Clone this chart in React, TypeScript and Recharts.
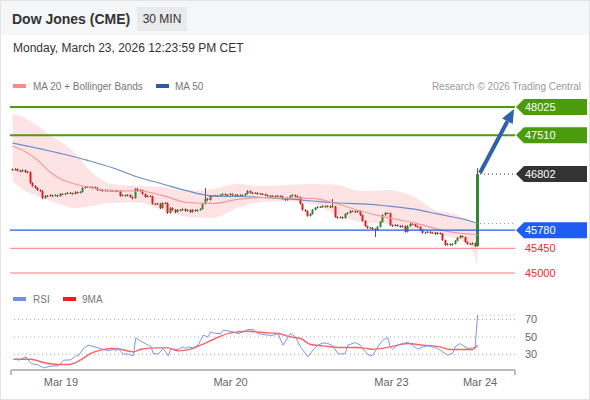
import { ComposedChart, LineChart, Line, Area, Bar, XAxis, YAxis, ReferenceLine } from 'recharts';

// 30 min candles, [open, high, low, close]
const candles: number[][] = [
  [46890, 46905, 46860, 46875], [46875, 46910, 46865, 46895], [46895, 46905, 46850, 46860], [46860, 46880, 46835, 46850],
  [46850, 46890, 46840, 46875], [46875, 46885, 46825, 46840], [46840, 46860, 46820, 46835], [46835, 46855, 46625, 46640],
  [46640, 46655, 46570, 46585], [46585, 46600, 46535, 46550], [46550, 46565, 46495, 46510], [46510, 46525, 46480, 46495],
  [46495, 46510, 46345, 46365], [46365, 46420, 46355, 46405], [46405, 46420, 46390, 46400], [46400, 46435, 46390, 46420],
  [46420, 46430, 46390, 46405], [46405, 46435, 46395, 46420], [46420, 46430, 46385, 46400], [46400, 46455, 46390, 46440],
  [46440, 46455, 46420, 46435], [46435, 46460, 46425, 46445], [46445, 46475, 46435, 46460], [46460, 46475, 46440, 46455],
  [46455, 46465, 46425, 46440], [46440, 46490, 46430, 46475], [46475, 46485, 46445, 46460], [46460, 46490, 46450, 46475],
  [46475, 46565, 46465, 46550], [46550, 46580, 46540, 46565], [46565, 46585, 46550, 46570], [46570, 46580, 46545, 46560],
  [46560, 46580, 46550, 46565], [46565, 46575, 46535, 46550], [46550, 46560, 46495, 46510], [46510, 46530, 46495, 46515],
  [46515, 46525, 46480, 46495], [46495, 46525, 46485, 46510], [46510, 46520, 46480, 46495], [46495, 46520, 46485, 46505],
  [46505, 46515, 46480, 46495], [46495, 46515, 46485, 46500], [46500, 46510, 46475, 46490], [46490, 46500, 46390, 46405],
  [46405, 46435, 46395, 46420], [46420, 46430, 46390, 46405], [46405, 46440, 46395, 46425], [46425, 46435, 46370, 46385],
  [46385, 46395, 46340, 46365], [46365, 46545, 46355, 46530], [46530, 46550, 46485, 46495], [46495, 46525, 46485, 46510],
  [46510, 46520, 46425, 46440], [46440, 46450, 46370, 46385], [46385, 46420, 46375, 46405], [46405, 46415, 46385, 46400],
  [46400, 46410, 46245, 46260], [46260, 46275, 46240, 46255], [46255, 46280, 46245, 46265], [46265, 46275, 46165, 46185],
  [46185, 46290, 46175, 46275], [46275, 46290, 46255, 46270], [46270, 46285, 46075, 46095], [46095, 46200, 46080, 46185],
  [46185, 46195, 46135, 46150], [46150, 46165, 46090, 46110], [46110, 46165, 46100, 46150], [46150, 46165, 46130, 46145],
  [46145, 46180, 46135, 46165], [46165, 46175, 46115, 46130], [46130, 46165, 46120, 46150], [46150, 46160, 46095, 46110],
  [46110, 46165, 46100, 46150], [46150, 46160, 46115, 46130], [46130, 46160, 46120, 46145], [46145, 46180, 46135, 46165],
  [46165, 46275, 46155, 46260], [46260, 46550, 46250, 46350], [46350, 46365, 46315, 46330], [46330, 46420, 46320, 46405],
  [46405, 46420, 46390, 46400], [46400, 46425, 46390, 46410], [46410, 46420, 46385, 46400], [46400, 46435, 46390, 46420],
  [46420, 46455, 46410, 46440], [46440, 46450, 46410, 46425], [46425, 46435, 46405, 46420], [46420, 46455, 46410, 46440],
  [46440, 46450, 46405, 46420], [46420, 46440, 46410, 46425], [46425, 46435, 46390, 46405], [46405, 46435, 46395, 46420],
  [46420, 46430, 46400, 46415], [46415, 46455, 46405, 46440], [46440, 46510, 46430, 46495], [46495, 46505, 46450, 46460],
  [46460, 46475, 46440, 46455], [46455, 46475, 46445, 46460], [46460, 46470, 46425, 46440], [46440, 46460, 46430, 46445],
  [46445, 46455, 46420, 46435], [46435, 46445, 46405, 46420], [46420, 46430, 46390, 46405], [46405, 46420, 46385, 46400],
  [46400, 46420, 46390, 46405], [46405, 46415, 46385, 46400], [46400, 46420, 46390, 46405], [46405, 46415, 46385, 46400],
  [46400, 46410, 46335, 46350], [46350, 46360, 46315, 46330], [46330, 46380, 46320, 46365], [46365, 46420, 46355, 46405],
  [46405, 46435, 46395, 46420], [46420, 46430, 46385, 46400], [46400, 46410, 46370, 46385], [46385, 46395, 46245, 46260],
  [46260, 46270, 46135, 46150], [46150, 46165, 46115, 46130], [46130, 46140, 46025, 46040], [46040, 46090, 46030, 46075],
  [46075, 46165, 46065, 46150], [46150, 46200, 46140, 46185], [46185, 46220, 46175, 46205], [46205, 46215, 46185, 46200],
  [46200, 46235, 46190, 46220], [46220, 46230, 46190, 46205], [46205, 46235, 46195, 46220], [46220, 46230, 46185, 46200],
  [46200, 46350, 46190, 46215], [46215, 46225, 46005, 46020], [46020, 46035, 45990, 46005], [46005, 46035, 45995, 46020],
  [46020, 46030, 45985, 46000], [46000, 46090, 45990, 46075], [46075, 46110, 46065, 46095], [46095, 46145, 46085, 46130],
  [46130, 46140, 46110, 46125], [46125, 46135, 46095, 46110], [46110, 46145, 46100, 46130], [46130, 46140, 46040, 46055],
  [46055, 46065, 45935, 45950], [45950, 45960, 45840, 45855], [45855, 45865, 45805, 45820], [45820, 45840, 45810, 45825],
  [45825, 45835, 45785, 45800], [45800, 45815, 45655, 45785], [45785, 45855, 45775, 45840], [45840, 45945, 45830, 45930],
  [45930, 46070, 45920, 46055], [46055, 46110, 46045, 46095], [46095, 46105, 46075, 46090], [46090, 46100, 45860, 45875],
  [45875, 45885, 45840, 45855], [45855, 45890, 45845, 45875], [45875, 45885, 45845, 45860], [45860, 45870, 45825, 45840],
  [45840, 45870, 45830, 45855], [45855, 45865, 45735, 45750], [45750, 45870, 45740, 45855], [45855, 45910, 45845, 45895],
  [45895, 45905, 45875, 45890], [45890, 45900, 45840, 45855], [45855, 45865, 45825, 45840], [45840, 45850, 45770, 45785],
  [45785, 45795, 45715, 45730], [45730, 45750, 45720, 45735], [45735, 45765, 45725, 45750], [45750, 45760, 45715, 45730],
  [45730, 45750, 45720, 45735], [45735, 45745, 45695, 45710], [45710, 45745, 45700, 45730], [45730, 45740, 45700, 45715],
  [45715, 45725, 45585, 45600], [45600, 45610, 45495, 45510], [45510, 45545, 45500, 45530], [45530, 45540, 45495, 45510],
  [45510, 45545, 45500, 45530], [45530, 45600, 45520, 45585], [45585, 45655, 45575, 45640], [45640, 45690, 45630, 45675],
  [45675, 45685, 45640, 45655], [45655, 45665, 45550, 45565], [45565, 45575, 45515, 45530], [45530, 45545, 45510, 45525],
  [45525, 45560, 45515, 45545], [45545, 45555, 45475, 45490], [45490, 46910, 45480, 46802],
];

// moving averages + bollinger bands, sampled at these candle positions
const maIdx = [0, 5, 10, 15, 20, 25, 30, 40, 50, 60, 70, 80, 90, 100, 110, 120, 130, 140, 150, 160, 170, 175, 180, 183, 186];
const ma20 = [47314, 47214, 47059, 46841, 46695, 46622, 46567, 46495, 46495, 46413, 46285, 46267, 46340, 46376, 46367, 46358, 46258, 46121, 46008, 45921, 45802, 45748, 45720, 45711, 45693];
const ma50 = [47369, 47322, 47273, 47223, 47169, 47114, 47052, 46917, 46750, 46622, 46495, 46404, 46394, 46376, 46349, 46312, 46276, 46258, 46221, 46167, 46076, 46030, 45984, 45948, 45902];
const bandUpper = [47897, 47825, 47679, 47515, 47369, 47187, 46914, 46622, 46585, 46567, 46495, 46531, 46622, 46585, 46604, 46622, 46604, 46495, 46513, 46404, 46130, 46094, 46021, 45966, 45857];
const bandLower = [46677, 46495, 46404, 46312, 46240, 46185, 46212, 46276, 46285, 46148, 46021, 46003, 46185, 46294, 46303, 46258, 46057, 45921, 45893, 45784, 45711, 45656, 45584, 45492, 45128];

const rsiIdx = [1, 2, 5, 7, 10, 12, 15, 18, 20, 23, 25, 26, 28, 30, 34, 38, 40, 41, 42, 44, 46, 48, 49, 51, 54, 55, 56, 58, 60, 61, 62, 63, 66, 68, 69, 70, 72, 74, 75, 76, 78, 79, 81, 83, 84, 87, 90, 92, 94, 96, 98, 102, 104, 106, 108, 111, 113, 115, 117, 118, 120, 122, 124, 126, 128, 130, 131, 133, 134, 137, 139, 141, 143, 144, 146, 148, 150, 151, 152, 154, 156, 158, 160, 162, 164, 166, 168, 170, 172, 174, 176, 177, 179, 180, 182, 184, 185, 186];
const rsiVal = [24.4, 23.3, 27.1, 19.5, 17.6, 14.5, 16.4, 16.8, 23.3, 23.6, 28.2, 28.2, 36.7, 40.5, 37.4, 34, 35.9, 34, 36.7, 30.2, 30.2, 28.2, 48.9, 45.1, 40.5, 39.3, 31, 30.2, 36.7, 32.8, 28.2, 35.9, 35.6, 38.5, 36.7, 38.5, 37.4, 40.5, 46.2, 51.9, 50, 55.7, 53.9, 53.9, 57.7, 56.5, 53.9, 55.7, 58.5, 58.5, 53.9, 51.9, 51.9, 53.9, 40.5, 53.9, 50, 38.5, 31, 27.1, 34.8, 40.5, 43.1, 42.4, 39.7, 31, 30.2, 31, 40.5, 43.6, 40.5, 32.8, 28.2, 29, 38.5, 46.2, 49.3, 38.5, 35.9, 40.5, 42.4, 43.6, 40.5, 35.9, 38.5, 39.7, 38.5, 36.7, 32.8, 29, 31, 38.5, 42.4, 40.5, 36.7, 37.4, 38, 75];
const rsiMaIdx = [0, 7, 12, 18, 22, 26, 31, 35, 39, 43, 48, 51, 58, 62, 66, 71, 75, 80, 87, 94, 100, 106, 111, 115, 119, 124, 131, 138, 144, 151, 158, 164, 171, 175, 180, 184, 186];
const rsiMa = [24.4, 24.4, 20.6, 18.3, 18.3, 22.1, 31, 34.8, 36.7, 35.9, 32.8, 35.9, 37.4, 37.4, 34, 35.9, 40.5, 47, 54.6, 56.5, 55, 53.9, 50, 48.2, 41.3, 39.7, 37.8, 37.8, 35.9, 38.5, 42.4, 40.5, 38.5, 35.6, 35.6, 35.6, 40.5];

const dayTicks = [19, 87, 151.5, 187];
const dayLabels = ['Mar 19', 'Mar 20', 'Mar 23', 'Mar 24'];
const resistances = [48025, 47510];
const pivot = 45780;
const supports = [45450, 45000];
const lastPrice = 46802;
const targetPrice = 47990;
const rsiLevels = [30, 50, 70];
const rsiLast = 75;

const LAST = candles.length - 1;
const X_END = 201;

const priceData = candles.map(([o, h, l, c], i) => {
  const k = maIdx.indexOf(i);
  return {
    idx: i, o, h, l, c, range: [l, h],
    ma20: k >= 0 ? ma20[k] : null,
    ma50: k >= 0 ? ma50[k] : null,
    band: k >= 0 ? [bandLower[k], bandUpper[k]] : null,
  };
});

const rsiKeys = Array.from(new Set([...rsiIdx, ...rsiMaIdx])).sort((a, b) => a - b);
const rsiData = rsiKeys.map((i) => {
  const a = rsiIdx.indexOf(i);
  const b = rsiMaIdx.indexOf(i);
  return { idx: i, rsi: a >= 0 ? rsiVal[a] : null, ma: b >= 0 ? rsiMa[b] : null };
});

const FONT = '"Liberation Sans", Arial, Helvetica, sans-serif';

const Candle = (props: any) => {
  const { x, y, width, height } = props;
  const p = props.payload ?? props;
  const { o, h, l, c } = p;
  const top = Math.min(y, y + height);
  const span = Math.abs(height);
  const k = h === l ? 0 : span / (h - l);
  const cx = Math.round(x + width / 2);
  const bTop = top + (h - Math.max(o, c)) * k;
  const bH = Math.max(1, Math.abs(o - c) * k);
  const up = c >= o;
  const bw = p.idx === LAST ? 3 : 2;
  return (
    <g>
      <line x1={cx + 0.5} x2={cx + 0.5} y1={top} y2={top + span} stroke="#555" strokeWidth={1} />
      <rect x={cx + 0.5 - bw / 2} y={bTop} width={bw} height={bH} fill={up ? '#348434' : '#e01e1e'} />
    </g>
  );
};

const Tag = (props: any) => {
  const { viewBox, tagText, tagBg, tagColor } = props;
  const x0 = viewBox.x + viewBox.width + 1;
  const y = viewBox.y;
  if (!tagBg) {
    return <text x={x0 + 9} y={y + 4} fill={tagColor} fontSize={11}>{tagText}</text>;
  }
  return (
    <g>
      <polygon points={`${x0},${y} ${x0 + 8},${y - 8} ${x0 + 71},${y - 8} ${x0 + 71},${y + 8} ${x0 + 8},${y + 8}`} fill={tagBg} />
      <text x={x0 + 9} y={y + 4} fill="#fff" fontSize={11}>{tagText}</text>
    </g>
  );
};

const Arrow = (p: any) => {
  const { x1, y1, x2, y2 } = p;
  const ang = Math.atan2(y2 - y1, x2 - x1);
  const len = 14;
  const half = 6;
  const bx = x2 - len * Math.cos(ang);
  const by = y2 - len * Math.sin(ang);
  const nx = -Math.sin(ang);
  const ny = Math.cos(ang);
  return (
    <g>
      <line x1={x1} y1={y1} x2={bx} y2={by} stroke="#2f62a6" strokeWidth={4} />
      <polygon points={`${x2},${y2} ${bx + nx * half},${by + ny * half} ${bx - nx * half},${by - ny * half}`} fill="#2f62a6" />
    </g>
  );
};

const Swatch = ({ left, top, color }: any) => (
  <div style={{ position: 'absolute', left, top, width: 13, height: 4, background: color }} />
);

export default function App() {
  return (
    <div style={{ position: 'relative', width: 590, height: 400, background: '#fff', fontFamily: FONT, overflow: 'hidden' }}>
      <style>{'body{margin:0}'}</style>
      <div style={{ position: 'absolute', left: 0, top: 0, width: 590, height: 35, background: '#f5f6f7' }} />
      <div style={{ position: 'absolute', left: 12, top: 10, fontSize: 14, lineHeight: '18px', fontWeight: 'bold', color: '#333' }}>Dow Jones (CME)</div>
      <div style={{ position: 'absolute', left: 137, top: 7, width: 50, height: 24, background: '#e8eaec', fontSize: 12, lineHeight: '24px', textAlign: 'center', color: '#333' }}>30 MIN</div>
      <div style={{ position: 'absolute', left: 13, top: 41, fontSize: 12, lineHeight: '15px', color: '#333' }}>Monday, March 23, 2026 12:23:59 PM CET</div>

      <Swatch left={13} top={84} color="#f78a8a" />
      <div style={{ position: 'absolute', left: 33, top: 80, fontSize: 10, lineHeight: '13px', color: '#777' }}>MA 20 + Bollinger Bands</div>
      <Swatch left={156} top={84} color="#2f5a9e" />
      <div style={{ position: 'absolute', left: 175, top: 80, fontSize: 10, lineHeight: '13px', color: '#777' }}>MA 50</div>
      <div style={{ position: 'absolute', right: 9, top: 80, fontSize: 10, lineHeight: '13px', color: '#999' }}>Research © 2026 Trading Central</div>

      <div style={{ position: 'absolute', left: 0, top: 96 }}>
        <ComposedChart width={590} height={187} data={priceData} margin={{ top: 0, right: 75, bottom: 0, left: 10 }}>
          <XAxis type="number" dataKey="idx" domain={[-1, X_END]} hide allowDataOverflow />
          <YAxis type="number" domain={[44818, 48225]} hide allowDataOverflow />
          <Area dataKey="band" type="monotone" stroke="none" fill="#fde3e3" fillOpacity={1} connectNulls isAnimationActive={false} />
          <Line dataKey="ma50" type="monotone" stroke="#6b8cc8" strokeWidth={1.2} dot={false} connectNulls isAnimationActive={false} />
          <Line dataKey="ma20" type="monotone" stroke="#f59a9a" strokeWidth={1.2} dot={false} connectNulls isAnimationActive={false} />
          {resistances.map((v) => (
            <ReferenceLine key={v} y={v} stroke="#4a9c0c" strokeWidth={2}
              label={<Tag tagText={String(v)} tagBg="#4a9c0c" />} />
          ))}
          <ReferenceLine y={pivot} stroke="#1f5cf0" strokeWidth={1.2} label={<Tag tagText={String(pivot)} tagBg="#1f5cf0" />} />
          {supports.map((v) => (
            <ReferenceLine key={v} y={v} stroke="#f47c7c" strokeWidth={1}
              label={<Tag tagText={String(v)} tagColor="#ee2a2a" />} />
          ))}
          <ReferenceLine segment={[{ x: LAST + 1, y: ma50[ma50.length - 1] }, { x: X_END, y: ma50[ma50.length - 1] }]}
            stroke="#7d9bd6" strokeDasharray="1 3" ifOverflow="visible" />
          <ReferenceLine segment={[{ x: LAST + 1, y: lastPrice }, { x: X_END, y: lastPrice }]}
            stroke="#333" strokeDasharray="1 3" ifOverflow="visible"
            label={<Tag tagText={String(lastPrice)} tagBg="#333333" />} />
          <Bar dataKey="range" barSize={2} shape={<Candle />} isAnimationActive={false} />
          <ReferenceLine segment={[{ x: LAST + 1, y: lastPrice + 20 }, { x: 200.6, y: targetPrice }]}
            ifOverflow="visible" shape={(p: any) => <Arrow {...p} />} />
        </ComposedChart>
      </div>

      <Swatch left={13} top={297} color="#6f8fe8" />
      <div style={{ position: 'absolute', left: 33, top: 293, fontSize: 10, lineHeight: '13px', color: '#777' }}>RSI</div>
      <Swatch left={63} top={297} color="#ff1a1a" />
      <div style={{ position: 'absolute', left: 82, top: 293, fontSize: 10, lineHeight: '13px', color: '#777' }}>9MA</div>

      <div style={{ position: 'absolute', left: 0, top: 286 }}>
        <LineChart width={590} height={113} data={rsiData} margin={{ top: 5, right: 15, bottom: 0, left: 11 }}>
          <XAxis type="number" dataKey="idx" domain={[-1, X_END]} allowDataOverflow ticks={dayTicks}
            tickFormatter={(v: number) => dayLabels[dayTicks.indexOf(v)]}
            axisLine={{ stroke: '#bbb', strokeWidth: 2 }} tickLine={false} height={29}
            tick={{ fontSize: 11, fill: '#666' }} />
          <YAxis orientation="right" type="number" domain={[12, 102.7]} ticks={rsiLevels} allowDataOverflow
            axisLine={false} tickLine={false} width={60} tickMargin={4} tick={{ fontSize: 11, fill: '#666', textAnchor: 'start' }} />
          {rsiLevels.map((v) => (
            <ReferenceLine key={v} y={v} stroke="#aaa" strokeDasharray="1 3" />
          ))}
          <ReferenceLine segment={[{ x: -1, y: 12 }, { x: -1, y: 6.3 }]} stroke="#bbb" strokeWidth={2} ifOverflow="visible" />
          <ReferenceLine segment={[{ x: X_END, y: 12 }, { x: X_END, y: 6.3 }]} stroke="#bbb" strokeWidth={2} ifOverflow="visible" />
          <ReferenceLine segment={[{ x: LAST, y: rsiLast }, { x: X_END, y: rsiLast }]} stroke="#8aa4f0" strokeDasharray="1 3" ifOverflow="visible" />
          <Line dataKey="ma" type="monotone" stroke="#ff3a3a" strokeOpacity={0.8} strokeWidth={1.4} dot={false} connectNulls isAnimationActive={false} />
          <Line dataKey="rsi" type="linear" stroke="#7b96ec" strokeWidth={1} dot={false} connectNulls isAnimationActive={false} />
        </LineChart>
      </div>

      <div style={{ position: 'absolute', inset: 0, border: '1px solid #e3e3e3', pointerEvents: 'none' }} />
    </div>
  );
}
